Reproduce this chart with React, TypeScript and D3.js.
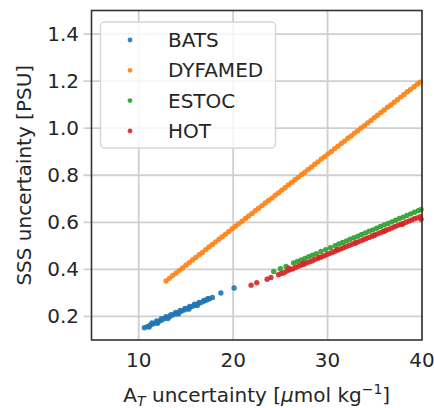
import React from 'react';
import * as d3 from 'd3';

// BATS
const batsAT = [10.6, 10.9, 11.2, 11.5, 11.8, 12.1, 12.4, 12.7, 13.0, 13.3, 13.6, 13.9, 14.2, 14.5, 14.8, 15.1, 15.4, 15.7, 16.0, 16.3, 16.6, 16.9, 17.2, 17.5, 17.8,
  11.4, 11.9, 12.4, 12.9, 13.4, 13.9, 14.4, 14.9, 15.4, 15.9, 16.4, 16.9, 17.3,
  11.1, 12.0, 13.1, 14.2, 15.3, 16.2, 18.7, 20.1];
const batsSSS = [0.152, 0.157, 0.163, 0.168, 0.173, 0.179, 0.184, 0.190, 0.195, 0.200, 0.206, 0.211, 0.216, 0.222, 0.227, 0.233, 0.238, 0.243, 0.249, 0.254, 0.259, 0.265, 0.270, 0.275, 0.281,
  0.172, 0.181, 0.190, 0.199, 0.208, 0.217, 0.226, 0.234, 0.243, 0.252, 0.260, 0.268, 0.275,
  0.155, 0.171, 0.191, 0.211, 0.231, 0.247, 0.300, 0.321];

// DYFAMED
const dyfamedAT = [12.9, 13.25, 13.6, 13.95, 14.3, 14.65, 15.0, 15.35, 15.7, 16.05, 16.4, 16.75, 17.1, 17.45, 17.8, 18.15, 18.5, 18.85, 19.2, 19.55,
  19.9, 20.25, 20.6, 20.95, 21.3, 21.65, 22.0, 22.35, 22.7, 23.05, 23.4, 23.75, 24.1, 24.45, 24.8, 25.15, 25.5, 25.85, 26.2, 26.55,
  26.9, 27.25, 27.6, 27.95, 28.3, 28.65, 29.0, 29.35, 29.7, 30.05, 30.4, 30.75, 31.1, 31.45, 31.8, 32.15, 32.5, 32.85, 33.2, 33.55,
  33.9, 34.25, 34.6, 34.95, 35.3, 35.65, 36.0, 36.35, 36.7, 37.05, 37.4, 37.75, 38.1, 38.45, 38.8, 39.15, 39.5, 39.8];
const dyfamedSSS = [0.351, 0.362, 0.374, 0.384, 0.396, 0.406, 0.418, 0.428, 0.440, 0.451, 0.462, 0.472, 0.484, 0.495, 0.506, 0.517, 0.528, 0.539, 0.550, 0.561,
  0.573, 0.583, 0.594, 0.605, 0.616, 0.627, 0.638, 0.649, 0.660, 0.671, 0.682, 0.693, 0.703, 0.715, 0.725, 0.737, 0.747, 0.759, 0.769, 0.781,
  0.791, 0.803, 0.813, 0.825, 0.835, 0.847, 0.857, 0.869, 0.879, 0.891, 0.901, 0.913, 0.923, 0.935, 0.945, 0.957, 0.967, 0.979, 0.989, 1.001,
  1.011, 1.022, 1.033, 1.045, 1.055, 1.067, 1.077, 1.089, 1.099, 1.110, 1.121, 1.132, 1.143, 1.155, 1.165, 1.176, 1.187, 1.195];

// ESTOC
const estocAT = [24.3, 25.0, 25.6, 26.4, 26.8, 27.2, 27.6, 28.0, 28.4, 28.8, 29.3, 29.8, 30.3, 30.8, 31.2, 31.6, 32.0, 32.4, 32.8,
  33.2, 33.6, 34.0, 34.4, 34.8, 35.2, 35.6, 36.0, 36.4, 36.8, 37.2, 37.6, 38.0, 38.4, 38.8, 39.2, 39.6, 39.9];
const estocSSS = [0.391, 0.403, 0.412, 0.427, 0.434, 0.440, 0.447, 0.454, 0.460, 0.467, 0.476, 0.484, 0.492, 0.501, 0.508, 0.514, 0.521, 0.528, 0.535,
  0.541, 0.548, 0.555, 0.562, 0.568, 0.575, 0.582, 0.589, 0.595, 0.602, 0.609, 0.616, 0.622, 0.629, 0.636, 0.643, 0.649, 0.655];

// HOT
const hotAT = [21.9, 22.5, 23.6, 24.0, 24.8, 25.1, 25.4, 25.7, 26.0, 26.3, 26.6, 26.9, 27.2, 27.5, 27.8, 28.1, 28.4, 28.7, 29.0, 29.3,
  29.6, 29.9, 30.2, 30.5, 30.8, 31.1, 31.4, 31.7, 32.0, 32.3, 32.6, 32.9, 33.2, 33.5, 33.8, 34.1, 34.4, 34.7, 35.0, 35.3,
  35.6, 35.9, 36.2, 36.5, 36.8, 37.1, 37.4, 37.7, 38.0, 38.3, 38.6, 38.9, 39.2, 39.5, 39.8,
  25.9, 27.4, 29.1, 31.0, 33.0, 34.9, 36.0, 37.9, 39.9];
const hotSSS = [0.333, 0.343, 0.358, 0.366, 0.377, 0.383, 0.386, 0.393, 0.398, 0.402, 0.408, 0.413, 0.418, 0.422, 0.428, 0.432, 0.437, 0.443, 0.447, 0.452,
  0.457, 0.462, 0.467, 0.472, 0.477, 0.482, 0.487, 0.492, 0.497, 0.502, 0.507, 0.511, 0.516, 0.521, 0.526, 0.531, 0.536, 0.541, 0.546, 0.551,
  0.556, 0.561, 0.566, 0.571, 0.576, 0.581, 0.586, 0.591, 0.595, 0.600, 0.605, 0.610, 0.615, 0.619, 0.624,
  0.405, 0.426, 0.452, 0.484, 0.514, 0.544, 0.562, 0.592, 0.613];

const seriesNames = ['BATS', 'DYFAMED', 'ESTOC', 'HOT'];
const seriesColors = ['#1f77b4', '#ff7f0e', '#2ca02c', '#d62728'];
const xTicks = [10, 20, 30, 40];
const yTicks = [0.2, 0.4, 0.6, 0.8, 1.0, 1.2, 1.4];

const W = 434;
const H = 408;
const m = { left: 91.5, right: 422, top: 10.5, bottom: 340 };
const font = 'DejaVu Sans, sans-serif';
const fs = 20;

export default function App() {
  const x = d3.scaleLinear().domain([5, 40]).range([m.left, m.right]);
  const y = d3.scaleLinear().domain([0.1, 1.5]).range([m.bottom, m.top]);

  const series = [
    { ats: batsAT, sss: batsSSS },
    { ats: dyfamedAT, sss: dyfamedSSS },
    { ats: estocAT, sss: estocSSS },
    { ats: hotAT, sss: hotSSS },
  ];

  const grid = '#cfcfcf';

  return (
    <svg width={W} height={H} style={{ position: 'absolute', left: 0, top: 0, background: '#fff' }} fontFamily={font}>
      {/* grid */}
      {xTicks.map(t => (
        <line key={'gx' + t} x1={x(t)} x2={x(t)} y1={m.top} y2={m.bottom} stroke={grid} strokeWidth={1.8} />
      ))}
      {yTicks.map(t => (
        <line key={'gy' + t} x1={m.left - 8} x2={m.right} y1={y(t)} y2={y(t)} stroke={grid} strokeWidth={1.8} />
      ))}

      {/* points */}
      {series.map((s, i) => (
        <g key={seriesNames[i]} fill={seriesColors[i]} fillOpacity={0.9}>
          {s.ats.map((v, j) => (
            <circle key={j} cx={x(v)} cy={y(s.sss[j])} r={2.7} />
          ))}
        </g>
      ))}

      {/* spines */}
      <rect x={m.left} y={m.top} width={m.right - m.left} height={m.bottom - m.top} fill="none" stroke="#333" strokeWidth={1.6} />

      {/* tick labels */}
      {xTicks.map(t => (
        <text key={'tx' + t} x={x(t)} y={367} textAnchor="middle" fontSize={fs} fill="#262626">{t}</text>
      ))}
      {yTicks.map(t => (
        <text key={'ty' + t} x={79} y={y(t) + 7} textAnchor="end" fontSize={fs} fill="#262626">{t.toFixed(1)}</text>
      ))}

      {/* axis labels */}
      <text x={(m.left + m.right) / 2} y={402} textAnchor="middle" fontSize={fs} fill="#262626">
        A<tspan fontSize={14} fontStyle="italic" dy={4}>T</tspan>
        <tspan dy={-4}> uncertainty [</tspan>
        <tspan fontStyle="italic">μ</tspan>
        <tspan>mol kg</tspan>
        <tspan fontSize={14} dy={-8}>−1</tspan>
        <tspan dy={8}>]</tspan>
      </text>
      <text transform={`translate(30.5,${(m.top + m.bottom) / 2}) rotate(-90)`} textAnchor="middle" fontSize={fs} fill="#262626">
        SSS uncertainty [PSU]
      </text>

      {/* legend */}
      <rect x={100.5} y={22} width={175} height={126} rx={4} fill="#fff" fillOpacity={0.8} stroke="#d6d6d6" strokeWidth={1.5} />
      {seriesNames.map((n, i) => (
        <g key={'lg' + n}>
          <circle cx={130} cy={40 + i * 30.3} r={2.4} fill={seriesColors[i]} fillOpacity={0.9} />
          <text x={168} y={40 + i * 30.3 + 7} fontSize={fs} fill="#262626">{n}</text>
        </g>
      ))}
    </svg>
  );
}
